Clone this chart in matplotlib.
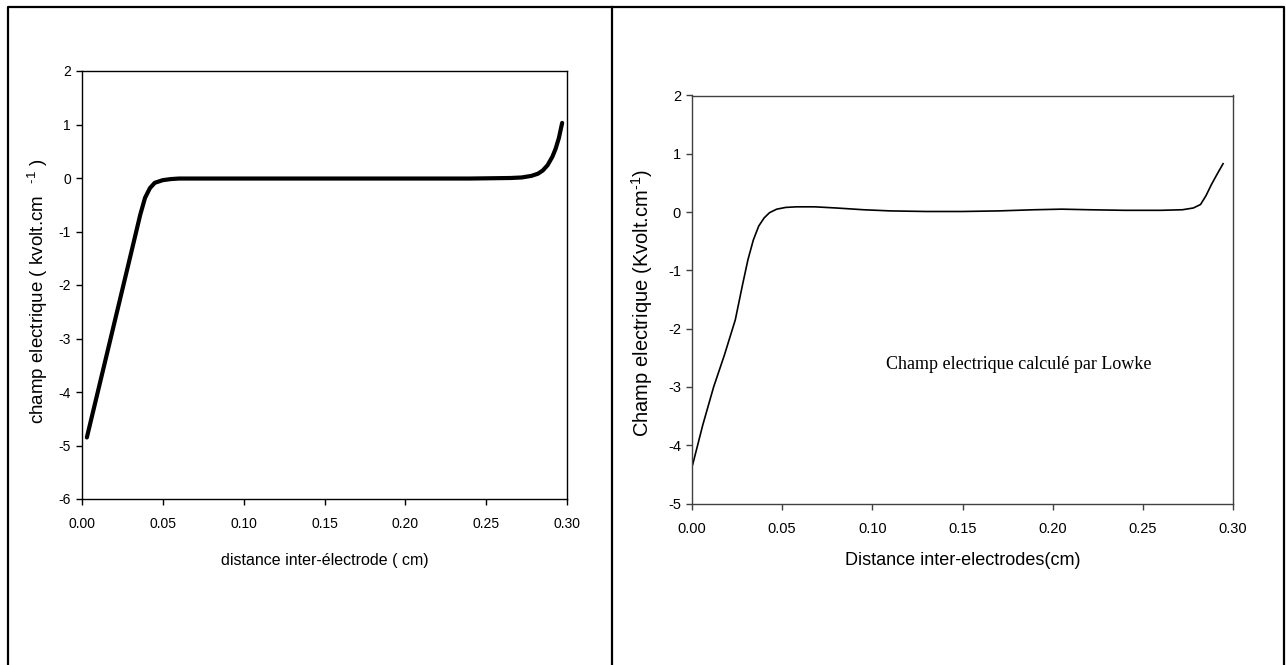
import matplotlib
matplotlib.use('Agg')
import matplotlib.pyplot as plt
from matplotlib.lines import Line2D

plt.rcParams['font.family'] = ['Liberation Sans', 'DejaVu Sans']
plt.rcParams['mathtext.fontset'] = 'custom'
plt.rcParams['mathtext.rm'] = 'Liberation Sans'
plt.rcParams['mathtext.it'] = 'Liberation Sans'
plt.rcParams['axes.unicode_minus'] = False

# left panel: champ electrique (numerical)
x_left = [0.003, 0.010, 0.020, 0.025, 0.030, 0.033, 0.036, 0.039, 0.042, 0.045,
          0.050, 0.055, 0.060, 0.080, 0.120, 0.160, 0.200, 0.240, 0.265, 0.272,
          0.278, 0.282, 0.285, 0.288, 0.291, 0.293, 0.295, 0.297]
y_left = [-4.85, -3.97, -2.71, -2.08, -1.45, -1.07, -0.69, -0.37, -0.19, -0.09,
          -0.04, -0.02, -0.01, -0.01, -0.01, -0.01, -0.01, -0.01, 0.00, 0.01,
          0.04, 0.08, 0.14, 0.24, 0.40, 0.55, 0.75, 1.03]

# right panel: champ electrique calcule par Lowke
x_right = [0.0004, 0.006, 0.012, 0.018, 0.024, 0.028, 0.031, 0.034, 0.037, 0.040,
           0.043, 0.047, 0.052, 0.058, 0.068, 0.080, 0.095, 0.110, 0.130, 0.150,
           0.170, 0.190, 0.205, 0.220, 0.240, 0.260, 0.272, 0.278, 0.282, 0.285,
           0.288, 0.291, 0.2945]
y_right = [-4.33, -3.65, -3.00, -2.45, -1.85, -1.25, -0.82, -0.48, -0.24, -0.10,
           -0.01, 0.05, 0.08, 0.09, 0.09, 0.07, 0.04, 0.02, 0.01, 0.01,
           0.02, 0.04, 0.05, 0.04, 0.03, 0.03, 0.04, 0.07, 0.13, 0.28,
           0.47, 0.64, 0.83]

xticks = [0.00, 0.05, 0.10, 0.15, 0.20, 0.25, 0.30]
W, H = 1286, 665
fig = plt.figure(figsize=(W / 100, H / 100), dpi=100)

def style(ax, color, size):
    for s in ax.spines.values():
        s.set_color(color)
        s.set_linewidth(1.0)
    ax.tick_params(direction='out', length=4, width=1, color=color,
                   labelsize=size, top=False, right=False)
    ax.tick_params(axis='x', pad=9)
    ax.tick_params(axis='y', pad=4)
    ax.set_xticks(xticks)
    ax.set_xticklabels(['%.2f' % t for t in xticks])

ax1 = fig.add_axes([82 / W, 1 - 499 / H, 485 / W, 428 / H])
ax1.plot(x_left, y_left, color='black', lw=3.0, solid_capstyle='round')
ax1.set_xlim(0, 0.30)
ax1.set_ylim(-6, 2)
ax1.set_yticks(range(-6, 3))
style(ax1, 'black', 10)
ax1.set_xlabel('distance inter-électrode ( cm)', fontsize=11.5)
ax1.set_ylabel(r'champ electrique ( kvolt.cm $^{\ \ \text{-1}}$ )', fontsize=13.5)
ax1.xaxis.set_label_coords(0.5, -0.125)
ax1.yaxis.set_label_coords(-0.066, 0.485)

ax2 = fig.add_axes([692 / W, 1 - 503.5 / H, 541 / W, 408 / H])
ax2.plot(x_right, y_right, color='black', lw=1.2)
ax2.set_xlim(0, 0.30)
ax2.set_ylim(-5, 2)
ax2.set_yticks(range(-5, 3))
style(ax2, '#404040', 10.5)
ax2.set_xlabel('Distance inter-electrodes(cm)', fontsize=13)
ax2.set_ylabel(r'Champ electrique (Kvolt.cm$^{\text{-1}}$)', fontsize=14.5)
ax2.xaxis.set_label_coords(0.5, -0.12)
ax2.yaxis.set_label_coords(-0.068, 0.49)
ax2.text(0.181, -2.61, 'Champ electrique calculé par Lowke', fontsize=13,
         family='Liberation Serif', ha='center', va='center')

# outer frame and divider
def px_line(xs, ys):
    fig.add_artist(Line2D([x / W for x in xs], [1 - y / H for y in ys],
                          transform=fig.transFigure, color='black', lw=1.6))

px_line([7.5, 7.5, 1283.5, 1283.5], [665, 6.5, 6.5, 665])
px_line([612, 612], [6.5, 665])

fig.savefig('out.png', dpi=100)
